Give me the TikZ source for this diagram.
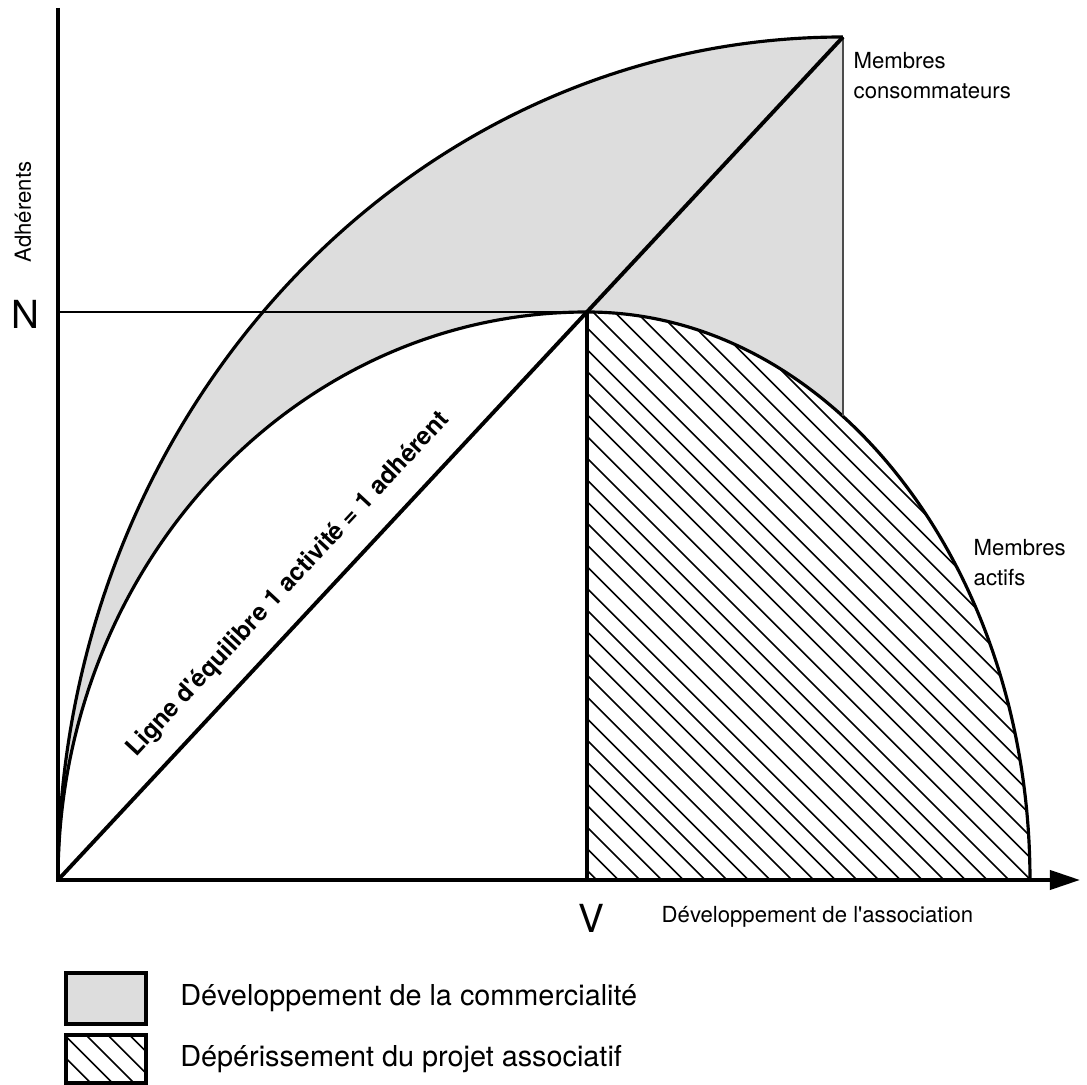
\documentclass[tikz,border=0pt]{standalone}
\usepackage{fontspec}
\setmainfont{TeX Gyre Heros}
\usetikzlibrary{arrows.meta}
\usetikzlibrary{positioning}
\definecolor{gris}{HTML}{DDDDDD}

\begin{document}
\begin{tikzpicture}[
        axe/.style={line width=1.1pt},
        courbe/.style={line width=0.9pt},
        hachure/.style={line width=0.45pt},
        petit/.style={font=\fontsize{6.3}{8.5}\selectfont, inner sep=0pt},
        grand/.style={font=\fontsize{11}{13}\selectfont, inner sep=0pt},
        legende/.style={draw, line width=0.9pt, minimum width=0.8cm, inner sep=0pt}
    ]
        \useasboundingbox (0,0) rectangle (10.87,10.85);

        \coordinate (O) at (0.58,2.05);
        \coordinate (H) at (0.58,10.77);
        \coordinate (X) at (10.80,2.05);
        \coordinate (P) at (5.87,7.73);
        \coordinate (T) at (8.43,10.48);
        \coordinate (Q) at (8.43,6.686);
        \coordinate (Nl) at (0.58,7.73);
        \coordinate (Vb) at (5.87,2.05);

        \fill[gris] (O) arc[start angle=180,end angle=90,x radius=7.85,y radius=8.43] -- (Q)
            arc[start angle=54.7,end angle=90,x radius=4.43,y radius=5.68]
            arc[start angle=90,end angle=180,x radius=5.29,y radius=5.68] -- cycle;

        \begin{scope}
            \clip (Vb) -- (P) arc[start angle=90,end angle=0,x radius=4.43,y radius=5.68] -- cycle;
            \foreach \c in {7.8,8.017,...,18.3}
                \draw[hachure] (5.5,\c-5.5) -- (10.5,\c-10.5);
        \end{scope}

        \draw[courbe] (O) arc[start angle=180,end angle=90,x radius=7.85,y radius=8.43];
        \draw[courbe] (O) arc[start angle=180,end angle=90,x radius=5.29,y radius=5.68]
            arc[start angle=90,end angle=0,x radius=4.43,y radius=5.68];
        \draw[gray!60!black,line width=0.6pt] (T) -- (Q);
        \draw[line width=0.6pt] (Nl) -- (P);
        \draw[courbe] (Vb) -- (P);
        \draw[axe] (O) -- (T)
            node[pos=0.324, sloped, above=0.19cm, inner sep=0pt, font=\bfseries\fontsize{7}{8}\selectfont] (ligne)
            {Ligne d\textquotesingle équilibre 1 activité = 1 adhérent};
        \draw[axe,-{Triangle[length=0.3cm,width=0.19cm]}] (H) -- (O) -- (X);

        \node[grand] (labN) at (0.255,7.71) {N};
        \node[grand] (labV) at (5.91,1.67) {V};
        \node[petit, rotate=90] (adh) at (0.23,8.73) {Adhérents};
        \node[petit, anchor=west] (dev) at (6.61,1.68) {Développement de l\textquotesingle association};
        \node[petit, anchor=north west, align=left] (conso) at (8.53,10.33) {Membres\\consommateurs};
        \node[petit, anchor=north west, align=left] (actifs) at (9.73,5.46) {Membres\\actifs};

        \node[legende, minimum height=0.51cm, fill=gris] (boite1) at (1.06,0.865) {};
        \node[legende, minimum height=0.48cm, path picture={
                \foreach \k in {0,...,6}
                    \draw[hachure] ([xshift={(\k*0.217-0.45)*1cm}]path picture bounding box.north west) -- ++(0.6,-0.6);
            }] (boite2) at (1.06,0.26) {};
        \node[right=0.32cm of boite1, inner sep=0pt, font=\fontsize{8.2}{10}\selectfont] (txt1) {Développement de la commercialité};
        \node[right=0.32cm of boite2, inner sep=0pt, font=\fontsize{8.2}{10}\selectfont] (txt2) {Dépérissement du projet associatif};
    \end{tikzpicture}
\end{document}
